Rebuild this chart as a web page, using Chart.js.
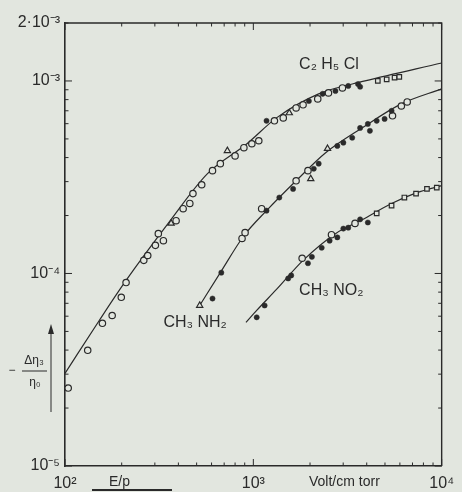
<!DOCTYPE html>
<html>
<head>
<meta charset="utf-8">
<title>Viscosity change vs E/p</title>
<script src="https://cdn.jsdelivr.net/npm/chart.js@4.4.1/dist/chart.umd.min.js"></script>
<style>
  html, body { margin: 0; padding: 0; background: #e2e6df; }
  #wrap { width: 462px; height: 492px; position: relative; }
</style>
</head>
<body>
<div id="wrap"><canvas id="visc"></canvas></div>
<script>
// E/p in Volt/cm torr  ->  -Δη3/η0

// C2H5Cl
const ethylCurveE = [100, 152, 211, 353, 571, 925, 1327, 2223, 3917, 10000];
const ethylCurveV = [3.03e-5, 5.7e-5, 9.2e-5, 1.82e-4, 3.3e-4, 4.72e-4, 6.43e-4, 8.57e-4, 1.0e-3, 1.24e-3];
const ethylCircE = [104, 132, 158, 178, 199, 211, 262, 275, 302, 313, 333, 389, 424, 460, 478, 532, 607, 668, 800, 891, 982, 1069, 1294, 1442, 1687, 1837, 2198, 2506, 2972];
const ethylCircV = [2.54e-5, 3.99e-5, 5.51e-5, 6.05e-5, 7.52e-5, 8.97e-5, 1.17e-4, 1.24e-4, 1.40e-4, 1.61e-4, 1.48e-4, 1.88e-4, 2.17e-4, 2.31e-4, 2.60e-4, 2.89e-4, 3.42e-4, 3.72e-4, 4.08e-4, 4.50e-4, 4.72e-4, 4.89e-4, 6.21e-4, 6.43e-4, 7.24e-4, 7.52e-4, 8.07e-4, 8.67e-4, 9.20e-4];
const ethylTriE = [366, 728, 1552];
const ethylTriV = [1.82e-4, 4.34e-4, 6.82e-4];
const ethylDotE = [1175, 1972, 2333, 2729, 3192, 3597, 3690];
const ethylDotV = [6.21e-4, 7.87e-4, 8.57e-4, 8.87e-4, 9.42e-4, 9.64e-4, 9.33e-4];
const ethylSqE = [4581, 5105, 5623, 5957];
const ethylSqV = [1.0e-3, 1.02e-3, 1.04e-3, 1.05e-3];

// CH3NH2
const amineCurveE = [519, 668, 891, 1175, 1687, 2421, 3776, 6109, 10000];
const amineCurveV = [6.82e-5, 1.01e-4, 1.57e-4, 2.12e-4, 3.03e-4, 4.24e-4, 5.70e-4, 7.60e-4, 9.10e-4];
const amineDotE = [607, 676, 1175, 1374, 1626, 2094, 2223, 2793, 3006, 3350, 3690, 4055, 4159, 4519, 4977, 5420];
const amineDotV = [7.41e-5, 1.01e-4, 2.12e-4, 2.48e-4, 2.75e-4, 3.50e-4, 3.72e-4, 4.60e-4, 4.78e-4, 5.07e-4, 5.70e-4, 5.98e-4, 5.51e-4, 6.21e-4, 6.35e-4, 7.00e-4];
const amineCircE = [871, 904, 1107, 1687, 1950, 5483, 6109, 6561];
const amineCircV = [1.52e-4, 1.63e-4, 2.17e-4, 3.03e-4, 3.42e-4, 6.59e-4, 7.41e-4, 7.78e-4];
const amineTriE = [519, 2018, 2477];
const amineTriV = [6.82e-5, 3.10e-4, 4.45e-4];

// CH3NO2
const nitroCurveE = [914, 1042, 1327, 1837, 2729, 3776, 5420, 7396, 10000];
const nitroCurveV = [5.57e-5, 6.43e-5, 8.26e-5, 1.17e-4, 1.61e-4, 1.90e-4, 2.31e-4, 2.63e-4, 2.86e-4];
const nitroDotE = [1042, 1148, 1531, 1589, 1950, 2046, 2307, 2541, 2793, 3006, 3192, 3690, 4055];
const nitroDotV = [5.92e-5, 6.82e-5, 9.42e-5, 9.77e-5, 1.13e-4, 1.22e-4, 1.36e-4, 1.48e-4, 1.54e-4, 1.71e-4, 1.73e-4, 1.91e-4, 1.84e-4];
const nitroCircE = [1816, 2600, 3467];
const nitroCircV = [1.20e-4, 1.59e-4, 1.82e-4];
const nitroSqE = [4519, 5420, 6339, 7311, 8356, 9419];
const nitroSqV = [2.05e-4, 2.25e-4, 2.48e-4, 2.60e-4, 2.75e-4, 2.79e-4];

// axis labels
const xTickVals = [100, 1000, 10000];
const xTickText = ['10²', '10³', '10⁴'];
const yTickVals = [1e-5, 1e-4, 1e-3, 2e-3];
const yTickText = ['10⁻⁵', '10⁻⁴', '10⁻³', '2·10⁻³'];

// curve names, anchored at (E, value) of their left/middle
const curveNames = ['C₂ H₅ Cl', 'CH₃ NH₂', 'CH₃ NO₂'];
const nameE = [1750, 333, 1750];
const nameV = [1.21e-3, 5.57e-5, 8.16e-5];

const INK = '#2a2a2a';
const PAPER = '#e2e6df';
const FONT = '"Liberation Sans", Arial, sans-serif';

const pts = (xs, ys) => xs.map((x, i) => ({ x: x, y: ys[i] }));
const near = (a, b) => Math.abs(Math.log10(a) - Math.log10(b)) < 1e-6;

function curve(xs, ys) {
    return { data: pts(xs, ys), showLine: true, pointRadius: 0, borderColor: INK,
             borderWidth: 1.2, cubicInterpolationMode: 'monotone', fill: false, order: 2 };
}
function open(xs, ys, style, r) {
    return { data: pts(xs, ys), pointStyle: style, pointRadius: r, borderColor: INK,
             backgroundColor: PAPER, borderWidth: 1.2, order: 1 };
}
function dots(xs, ys) {
    return { data: pts(xs, ys), pointStyle: 'circle', pointRadius: 2.6, borderColor: INK,
             backgroundColor: INK, borderWidth: 0.5, order: 1 };
}

// frame, inward tick marks, curve names and axis titles
const decorations = {
    id: 'decorations',
    afterDraw(chart) {
        const { ctx, chartArea: a, scales: { x, y } } = chart;
        ctx.save();
        ctx.strokeStyle = INK;
        ctx.lineWidth = 1.4;
        ctx.beginPath();
        ctx.moveTo(a.left, a.top);
        ctx.lineTo(a.right, a.top);
        ctx.lineTo(a.right, a.bottom);
        ctx.stroke();

        ctx.lineWidth = 1;
        ctx.beginPath();
        for (let d = 2; d <= 4; d++) {
            for (let m = 1; m <= 9; m++) {
                const v = m * Math.pow(10, d);
                if (v > 10000) break;
                const px = x.getPixelForValue(v);
                const len = m === 1 ? 7 : 3.5;
                ctx.moveTo(px, a.bottom); ctx.lineTo(px, a.bottom - len);
                ctx.moveTo(px, a.top); ctx.lineTo(px, a.top + len);
            }
        }
        for (let d = -5; d <= -3; d++) {
            for (let m = 1; m <= 9; m++) {
                const v = m * Math.pow(10, d);
                if (v > 2e-3 + 1e-12) break;
                const py = y.getPixelForValue(v);
                const len = m === 1 ? 7 : 3.5;
                ctx.moveTo(a.left, py); ctx.lineTo(a.left + len, py);
                ctx.moveTo(a.right, py); ctx.lineTo(a.right - len, py);
            }
        }
        ctx.stroke();

        ctx.fillStyle = INK;
        ctx.textBaseline = 'middle';
        ctx.textAlign = 'left';
        ctx.font = '16px ' + FONT;
        curveNames.forEach((t, i) => {
            ctx.fillText(t, x.getPixelForValue(nameE[i]), y.getPixelForValue(nameV[i]));
        });

        // x axis titles
        ctx.font = '14px ' + FONT;
        ctx.fillText('E/p', 109, 482);
        ctx.fillText('Volt/cm torr', 309, 482);
        ctx.lineWidth = 2;
        ctx.beginPath();
        ctx.moveTo(92, 490); ctx.lineTo(172, 490);
        ctx.stroke();

        // y axis title: - Δη3 / η0 with upward arrow
        ctx.font = '12px ' + FONT;
        ctx.textAlign = 'center';
        ctx.fillText('Δη₃', 34, 361);
        ctx.fillText('η₀', 35, 383);
        ctx.fillText('−', 12, 371);
        ctx.lineWidth = 1;
        ctx.beginPath();
        ctx.moveTo(22, 371); ctx.lineTo(47, 371);
        ctx.moveTo(51, 412); ctx.lineTo(51, 330);
        ctx.stroke();
        ctx.beginPath();
        ctx.moveTo(51, 324); ctx.lineTo(48, 334); ctx.lineTo(54, 334);
        ctx.closePath();
        ctx.fill();
        ctx.restore();
    }
};

const ctx = document.getElementById('visc').getContext('2d');
const chart = new Chart(ctx, {
    type: 'scatter',
    data: {
        datasets: [
            curve(ethylCurveE, ethylCurveV),
            curve(amineCurveE, amineCurveV),
            curve(nitroCurveE, nitroCurveV),
            open(ethylCircE, ethylCircV, 'circle', 3.2),
            open(ethylTriE, ethylTriV, 'triangle', 3.6),
            dots(ethylDotE, ethylDotV),
            open(ethylSqE, ethylSqV, 'rect', 3.2),
            dots(amineDotE, amineDotV),
            open(amineCircE, amineCircV, 'circle', 3.2),
            open(amineTriE, amineTriV, 'triangle', 3.6),
            dots(nitroDotE, nitroDotV),
            open(nitroCircE, nitroCircV, 'circle', 3.2),
            open(nitroSqE, nitroSqV, 'rect', 3.2)
        ]
    },
    options: {
        responsive: true,
        maintainAspectRatio: false,
        animation: false,
        layout: { padding: { top: 23, right: 14, left: 0, bottom: 0 } },
        plugins: { legend: { display: false }, tooltip: { enabled: false } },
        scales: {
            x: {
                type: 'logarithmic',
                min: 100, max: 10000,
                afterFit: (s) => { s.height = 26; },
                afterBuildTicks: (s) => { s.ticks = xTickVals.map(v => ({ value: v })); },
                grid: { display: false, drawTicks: false },
                border: { display: true, color: INK, width: 1.6 },
                ticks: {
                    padding: 8, autoSkip: false, maxRotation: 0, color: INK,
                    font: { family: FONT, size: 16 },
                    callback: (v) => { const i = xTickVals.findIndex(t => near(t, v)); return i < 0 ? '' : xTickText[i]; }
                }
            },
            y: {
                type: 'logarithmic',
                min: 1e-5, max: 2e-3,
                afterFit: (s) => { s.width = 65; },
                afterBuildTicks: (s) => { s.ticks = yTickVals.map(v => ({ value: v })); },
                grid: { display: false, drawTicks: false },
                border: { display: true, color: INK, width: 1.6 },
                ticks: {
                    padding: 5, autoSkip: false, color: INK,
                    font: { family: FONT, size: 16 },
                    callback: (v) => { const i = yTickVals.findIndex(t => near(t, v)); return i < 0 ? '' : yTickText[i]; }
                }
            }
        }
    },
    plugins: [decorations]
});
</script>
</body>
</html>
